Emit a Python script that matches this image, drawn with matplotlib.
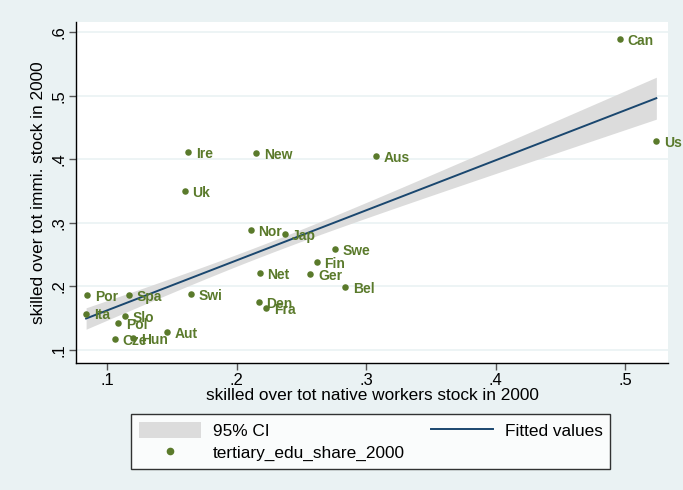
import numpy as np
import matplotlib
matplotlib.use("Agg")
import matplotlib.pyplot as plt
from matplotlib.patches import Patch
from matplotlib.lines import Line2D

plt.rcParams['font.family'] = ['Liberation Sans', 'DejaVu Sans']

countries = ["Can", "Us", "Ire", "New", "Aus", "Uk", "Nor", "Jap", "Swe", "Fin",
             "Net", "Ger", "Bel", "Por", "Spa", "Swi", "Ita", "Slo", "Pol", "Den",
             "Fra", "Aut", "Cze", "Hun"]
native_share = [0.496, 0.524, 0.1625, 0.215, 0.3076, 0.160, 0.211, 0.237, 0.276, 0.262,
                0.218, 0.257, 0.284, 0.0846, 0.117, 0.165, 0.0838, 0.114, 0.1085, 0.217,
                0.223, 0.146, 0.106, 0.120]
immi_share = [0.589, 0.429, 0.411, 0.410, 0.405, 0.350, 0.289, 0.282, 0.259, 0.238,
              0.221, 0.219, 0.199, 0.186, 0.186, 0.188, 0.157, 0.153, 0.142, 0.175,
              0.166, 0.128, 0.117, 0.119]

# confidence band: narrowest half-width near its centre,
# widest at the right end of the fitted range
ci_center = 0.22
ci_half_min = 0.009
ci_half_right = 0.033

x = np.array(native_share)
y = np.array(immi_share)

b1, b0 = np.polyfit(x, y, 1)
xs = np.linspace(x.min(), x.max(), 200)
fit = b0 + b1 * xs
k = (ci_half_right ** 2 - ci_half_min ** 2) / (x.max() - ci_center) ** 2
half = np.sqrt(ci_half_min ** 2 + k * (xs - ci_center) ** 2)
lo = fit - half
hi = fit + half

bg = "#EAF2F3"
green = "#5A7A2B"
navy = "#1A476F"
ci_col = "#DCDCDC"

fig = plt.figure(figsize=(6.83, 4.90), dpi=100, facecolor=bg)
ax = fig.add_axes([76 / 683, 1 - 363 / 490, (668 - 76) / 683, (363 - 22) / 490])
ax.set_facecolor("white")

ax.fill_between(xs, lo, hi, color=ci_col, lw=0, zorder=2)
ax.plot(xs, fit, color=navy, lw=1.4, zorder=3)
ax.scatter(x, y, s=22, color=green, zorder=4, lw=0)
for c, xi, yi in zip(countries, x, y):
    ax.annotate(c, (xi, yi), xytext=(5.5, -1.2), textcoords="offset points",
                va="center", ha="left", color=green, fontsize=10, fontweight="bold",
                zorder=5)

ax.set_xlim(0.076, 0.533)
ax.set_ylim(0.0796, 0.616)
xt = [0.1, 0.2, 0.3, 0.4, 0.5]
yt = [0.1, 0.2, 0.3, 0.4, 0.5, 0.6]
ax.set_xticks(xt)
ax.set_xticklabels([".1", ".2", ".3", ".4", ".5"])
ax.set_yticks(yt)
ax.set_yticklabels([".1", ".2", ".3", ".4", ".5", ".6"], rotation=90, va="center")
ax.grid(axis="y", color=bg, lw=1.2, zorder=1)
ax.set_axisbelow(True)
for sp in ["top", "right"]:
    ax.spines[sp].set_visible(False)
for sp in ["left", "bottom"]:
    ax.spines[sp].set_linewidth(1.0)
    ax.spines[sp].set_color("black")
ax.tick_params(axis="both", direction="out", length=5, width=1, color="#555555",
               labelsize=12, pad=2)
ax.set_xlabel("skilled over tot native workers stock in 2000", fontsize=12.4, labelpad=0)
ax.set_ylabel("skilled over tot immi. stock in 2000", fontsize=12.4, labelpad=4)

handles = [Patch(facecolor=ci_col, edgecolor="none"),
           Line2D([], [], marker="o", ls="none", color=green, markersize=4.5),
           Line2D([], [], color=navy, lw=1.4)]
labels = ["95% CI", "tertiary_edu_share_2000", "Fitted values"]
leg = fig.legend(handles, labels, ncol=2, loc="center", bbox_to_anchor=(0.5425, 0.099),
                 frameon=True, fancybox=False, edgecolor="black", fontsize=12.4,
                 handlelength=3.6, handleheight=1.1, columnspacing=1.5, labelspacing=0.28,
                 borderpad=0.45, handletextpad=0.7, borderaxespad=0)
leg.get_frame().set_linewidth(1.0)

fig.savefig("out.png", dpi=100, facecolor=bg)
